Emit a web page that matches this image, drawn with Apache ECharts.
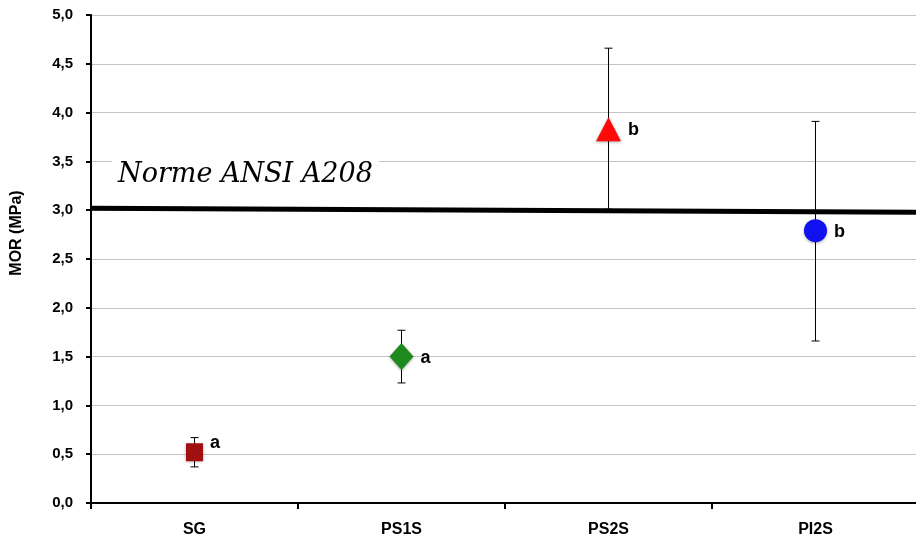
<!DOCTYPE html>
<html>
<head>
<meta charset="utf-8">
<script src="https://cdn.jsdelivr.net/npm/echarts@6/dist/echarts.min.js"></script>
<style>
  html, body { margin: 0; padding: 0; background: #fff; }
  #chart { width: 916px; height: 543px; }
</style>
</head>
<body>
<div id="chart"></div>
<script>
// données
const categories = ['SG', 'PS1S', 'PS2S', 'PI2S'];
const morMean = [0.52, 1.50, 3.83, 2.79];
const errLow = [0.37, 1.23, 3.01, 1.66];
const errHigh = [0.67, 1.77, 4.66, 3.91];
const groupLetters = ['a', 'a', 'b', 'b'];
const normLine = [[0, 3.02], [1, 2.98]];  // norme ANSI A208

const symbols = ['rect', 'diamond', 'triangle', 'circle'];
const symbolSizes = [[17, 18], [24, 27], [25, 24], [23, 23]];
const colors = ['#a01010', '#1e8a1e', '#ff0a0a', '#1010f0'];

const labelFont = 'Liberation Sans, Arial';

const chart = echarts.init(document.getElementById('chart'));

const pointData = categories.map(function (c, i) {
    return {
        value: [i, morMean[i]],
        symbol: symbols[i],
        symbolSize: symbolSizes[i],
        itemStyle: {
            color: colors[i],
            opacity: 1,
            shadowBlur: 3,
            shadowColor: 'rgba(0,0,0,0.35)',
            shadowOffsetY: 1
        },
        label: {
            formatter: groupLetters[i],
            offset: i === 0 ? [0, -9] : [0, 1]
        }
    };
});

const option = {
    animation: false,
    grid: {
        left: 91,
        right: -3,
        top: 15,
        bottom: 40,
        outerBoundsMode: 'none',
        containLabel: false
    },
    xAxis: [{
        type: 'category',
        data: categories,
        boundaryGap: true,
        axisLine: { lineStyle: { color: '#000', width: 2 } },
        axisTick: { show: true, length: 6, lineStyle: { color: '#000', width: 2 } },
        axisLabel: {
            color: '#000',
            fontFamily: labelFont,
            fontWeight: 'bold',
            fontSize: 16,
            margin: 19
        },
        splitLine: { show: false }
    }, {
        type: 'value',
        min: 0,
        max: 1,
        show: false
    }],
    yAxis: {
        type: 'value',
        min: 0,
        max: 5,
        interval: 0.5,
        name: 'MOR (MPa)',
        nameLocation: 'middle',
        nameGap: 66,
        nameRotate: 90,
        nameTextStyle: {
            color: '#000',
            fontFamily: labelFont,
            fontWeight: 'bold',
            fontSize: 16,
            padding: [0, 0, 0, 52]
        },
        axisLine: { show: true, lineStyle: { color: '#000', width: 2 } },
        axisTick: { show: true, length: 5, lineStyle: { color: '#000', width: 2 } },
        axisLabel: {
            color: '#000',
            fontFamily: labelFont,
            fontWeight: 'bold',
            fontSize: 15,
            margin: 18,
            formatter: function (v) { return v.toFixed(1).replace('.', ','); }
        },
        splitLine: { show: true, lineStyle: { color: '#c4c4c4', width: 1 } }
    },
    graphic: [{
        type: 'text',
        left: 112,
        top: 159,
        z: 5,
        style: {
            text: 'Norme ANSI A208',
            fontFamily: 'DejaVu Serif, Liberation Serif, serif',
            fontStyle: 'italic',
            fontSize: 27,
            fill: '#000',
            backgroundColor: '#fff',
            padding: [2, 6, 2, 6]
        }
    }],
    series: [{
        name: 'norme',
        type: 'line',
        xAxisIndex: 1,
        data: normLine,
        symbol: 'none',
        lineStyle: { color: '#000', width: 5 },
        z: 3
    }, {
        name: 'erreur',
        type: 'custom',
        xAxisIndex: 0,
        data: categories.map(function (c, i) { return [i, errLow[i], errHigh[i]]; }),
        renderItem: function (params, api) {
            const lo = api.coord([api.value(0), api.value(1)]);
            const hi = api.coord([api.value(0), api.value(2)]);
            const cap = 4;
            const st = { stroke: '#000', lineWidth: 1 };
            return {
                type: 'group',
                children: [
                    { type: 'line', shape: { x1: hi[0], y1: hi[1], x2: lo[0], y2: lo[1] }, style: st },
                    { type: 'line', shape: { x1: hi[0] - cap, y1: hi[1], x2: hi[0] + cap, y2: hi[1] }, style: st },
                    { type: 'line', shape: { x1: lo[0] - cap, y1: lo[1], x2: lo[0] + cap, y2: lo[1] }, style: st }
                ]
            };
        },
        z: 4
    }, {
        name: 'MOR',
        type: 'scatter',
        xAxisIndex: 0,
        data: pointData,
        label: {
            show: true,
            position: 'right',
            distance: 7,
            color: '#000',
            fontFamily: labelFont,
            fontWeight: 'bold',
            fontSize: 18
        },
        z: 6
    }]
};

chart.setOption(option);
</script>
</body>
</html>
